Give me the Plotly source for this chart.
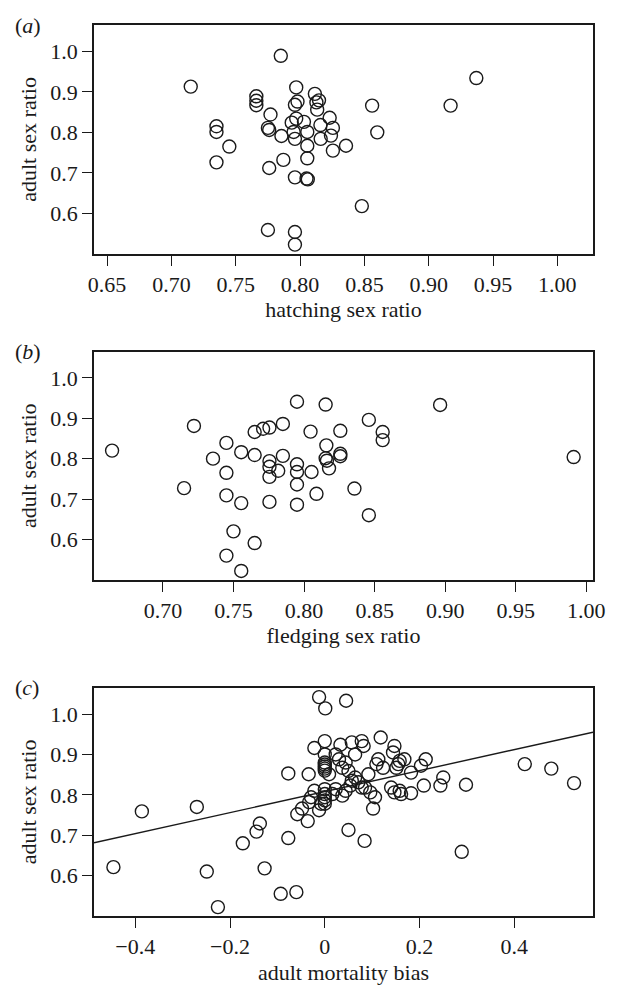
import plotly.graph_objects as go

# Panel (a): hatching sex ratio vs adult sex ratio
hatch_x = [0.715, 0.785, 0.735, 0.735, 0.745, 0.735, 0.766, 0.766, 0.766, 0.777,
           0.775, 0.776, 0.7855, 0.787, 0.776, 0.775, 0.796, 0.796, 0.796, 0.797,
           0.796, 0.798, 0.7935, 0.797, 0.795, 0.796, 0.8115, 0.8147, 0.8127, 0.8133,
           0.823, 0.803, 0.8158, 0.8255, 0.8056, 0.824, 0.816, 0.8056, 0.8357, 0.8255,
           0.8056, 0.8050, 0.8060, 0.856, 0.860, 0.917, 0.937, 0.848]
hatch_y = [0.913, 0.989, 0.815, 0.801, 0.765, 0.726, 0.889, 0.878, 0.867, 0.844,
           0.811, 0.806, 0.791, 0.732, 0.712, 0.559, 0.554, 0.523, 0.689, 0.911,
           0.868, 0.876, 0.824, 0.834, 0.801, 0.784, 0.895, 0.879, 0.874, 0.856,
           0.836, 0.826, 0.818, 0.811, 0.801, 0.792, 0.784, 0.767, 0.767, 0.755,
           0.736, 0.686, 0.684, 0.866, 0.800, 0.866, 0.934, 0.618]

# Panel (b): fledging sex ratio vs adult sex ratio
fledge_x = [0.664, 0.722, 0.715, 0.7355, 0.745, 0.745, 0.745, 0.7555, 0.750, 0.745,
            0.7555, 0.765, 0.7555, 0.765, 0.765, 0.771, 0.7755, 0.785, 0.7755, 0.7755,
            0.7755, 0.7817, 0.785, 0.7755, 0.795, 0.795, 0.795, 0.795, 0.795, 0.8046,
            0.8153, 0.8459, 0.8257, 0.8557, 0.8557, 0.8158, 0.8153, 0.8162, 0.8257, 0.8257,
            0.8177, 0.8053, 0.8088, 0.8357, 0.8459, 0.8964, 0.991]
fledge_y = [0.820, 0.881, 0.727, 0.800, 0.839, 0.765, 0.709, 0.690, 0.620, 0.560,
            0.522, 0.591, 0.816, 0.809, 0.866, 0.874, 0.877, 0.886, 0.794, 0.780,
            0.755, 0.770, 0.807, 0.693, 0.941, 0.786, 0.767, 0.736, 0.686, 0.867,
            0.934, 0.896, 0.869, 0.866, 0.846, 0.833, 0.801, 0.795, 0.812, 0.806,
            0.776, 0.767, 0.713, 0.726, 0.660, 0.933, 0.804]

# Panel (c): adult mortality bias vs adult sex ratio
mort_x = [-0.446, -0.386, -0.270, -0.249, -0.2255, -0.173, -0.144, -0.137, -0.127, -0.093,
          -0.060, -0.077, -0.077, -0.058, -0.048, -0.036, -0.012, 0.001, 0.045, 0.118,
          0.000, -0.022, 0.033, 0.057, 0.078, 0.082, 0.064, 0.023, 0.030, 0.147,
          0.144, 0.213, 0.203, 0.158, 0.155, 0.151, 0.168, 0.113, 0.109, 0.123,
          0.044, 0.037, 0.000, 0.000, 0.000, 0.000, 0.000, 0.000, -0.034, 0.009,
          0.050, 0.092, 0.182, 0.244, 0.250, 0.209, 0.298, 0.422, 0.478, 0.526,
          0.064, 0.057, 0.071, 0.054, 0.078, 0.044, 0.037, 0.096, 0.085, 0.023,
          0.016, 0.000, 0.000, 0.000, 0.000, 0.000, -0.022, -0.029, -0.033, -0.008,
          -0.012, 0.102, 0.106, 0.140, 0.147, 0.161, 0.158, 0.182, 0.050, 0.084,
          0.289]
mort_y = [0.621, 0.759, 0.770, 0.610, 0.522, 0.680, 0.709, 0.729, 0.618, 0.555,
          0.559, 0.853, 0.693, 0.752, 0.766, 0.735, 1.042, 1.014, 1.033, 0.942,
          0.933, 0.916, 0.924, 0.930, 0.933, 0.921, 0.900, 0.900, 0.888, 0.921,
          0.905, 0.888, 0.872, 0.884, 0.876, 0.867, 0.888, 0.888, 0.876, 0.867,
          0.880, 0.867, 0.880, 0.875, 0.870, 0.865, 0.860, 0.900, 0.851, 0.851,
          0.859, 0.851, 0.855, 0.823, 0.843, 0.823, 0.825, 0.876, 0.865, 0.829,
          0.843, 0.835, 0.831, 0.823, 0.818, 0.810, 0.798, 0.806, 0.818, 0.814,
          0.802, 0.802, 0.794, 0.786, 0.778, 0.814, 0.810, 0.794, 0.782, 0.778,
          0.762, 0.766, 0.794, 0.818, 0.806, 0.802, 0.810, 0.804, 0.713, 0.686,
          0.659]

# regression line in panel (c)
fit_intercept = 0.808
fit_slope = 0.26

# axis ranges and ticks
y_range = [0.5, 1.065]
y_ticks = [0.6, 0.7, 0.8, 0.9, 1.0]
a_range = [0.6398, 1.0277]
a_ticks = [0.65, 0.70, 0.75, 0.80, 0.85, 0.90, 0.95, 1.00]
b_range = [0.6512, 1.0047]
b_ticks = [0.70, 0.75, 0.80, 0.85, 0.90, 0.95, 1.00]
c_range = [-0.487, 0.566]
c_ticks = [-0.4, -0.2, 0.0, 0.2, 0.4]
c_ticklabels = ["\u22120.4", "\u22120.2", "0", "0.2", "0.4"]

FONT = "Liberation Serif, Times New Roman, serif"
FS = 22
INK = "#1a1a1a"

marker = dict(symbol="circle-open", size=13, color=INK, line=dict(width=1.4, color=INK))

fig = go.Figure()
fig.add_trace(go.Scatter(x=hatch_x, y=hatch_y, mode="markers", marker=marker,
                         xaxis="x", yaxis="y", showlegend=False))
fig.add_trace(go.Scatter(x=fledge_x, y=fledge_y, mode="markers", marker=marker,
                         xaxis="x2", yaxis="y2", showlegend=False))
fig.add_trace(go.Scatter(x=mort_x, y=mort_y, mode="markers", marker=marker,
                         xaxis="x3", yaxis="y3", showlegend=False))
fig.add_trace(go.Scatter(x=c_range, y=[fit_intercept + fit_slope * v for v in c_range],
                         mode="lines", line=dict(color=INK, width=1.4),
                         xaxis="x3", yaxis="y3", showlegend=False))

common = dict(showline=True, linecolor=INK, linewidth=1.5, mirror=True,
              ticks="outside", ticklen=10, tickwidth=1.3, tickcolor=INK,
              showgrid=False, zeroline=False,
              tickfont=dict(family=FONT, size=FS, color=INK))

def xax(rng, ticks, labels, title, anchor):
    d = dict(common)
    d.update(range=rng, tickvals=ticks, ticktext=labels, anchor=anchor,
             domain=[0, 1],
             title=dict(text=title, font=dict(family=FONT, size=FS, color=INK), standoff=6))
    return d

def yax(domain, anchor):
    d = dict(common)
    d.update(range=y_range, tickvals=y_ticks, ticktext=["%.1f" % v for v in y_ticks],
             domain=domain, anchor=anchor,
             title=dict(text="adult sex ratio", font=dict(family=FONT, size=FS, color=INK), standoff=8))
    return d

fig.update_layout(
    width=610, height=985,
    margin=dict(l=86, r=16, t=17, b=66),
    paper_bgcolor="white", plot_bgcolor="white",
    xaxis=xax(a_range, a_ticks, ["%.2f" % v for v in a_ticks], "hatching sex ratio", "y"),
    yaxis=yax([0.7431, 1.0], "x"),
    xaxis2=xax(b_range, b_ticks, ["%.2f" % v for v in b_ticks], "fledging sex ratio", "y2"),
    yaxis2=yax([0.3773, 0.6334], "x2"),
    xaxis3=xax(c_range, c_ticks, c_ticklabels, "adult mortality bias", "y3"),
    yaxis3=yax([0.0, 0.2561], "x3"),
)

for lab, ytop in [("a", 1.0), ("b", 0.6334), ("c", 0.2561)]:
    fig.add_annotation(text="(<i>%s</i>)" % lab, xref="paper", yref="paper",
                       x=-0.1614, y=ytop, xanchor="left", yanchor="middle",
                       showarrow=False, font=dict(family=FONT, size=FS, color=INK))

fig.write_html("out.html")
